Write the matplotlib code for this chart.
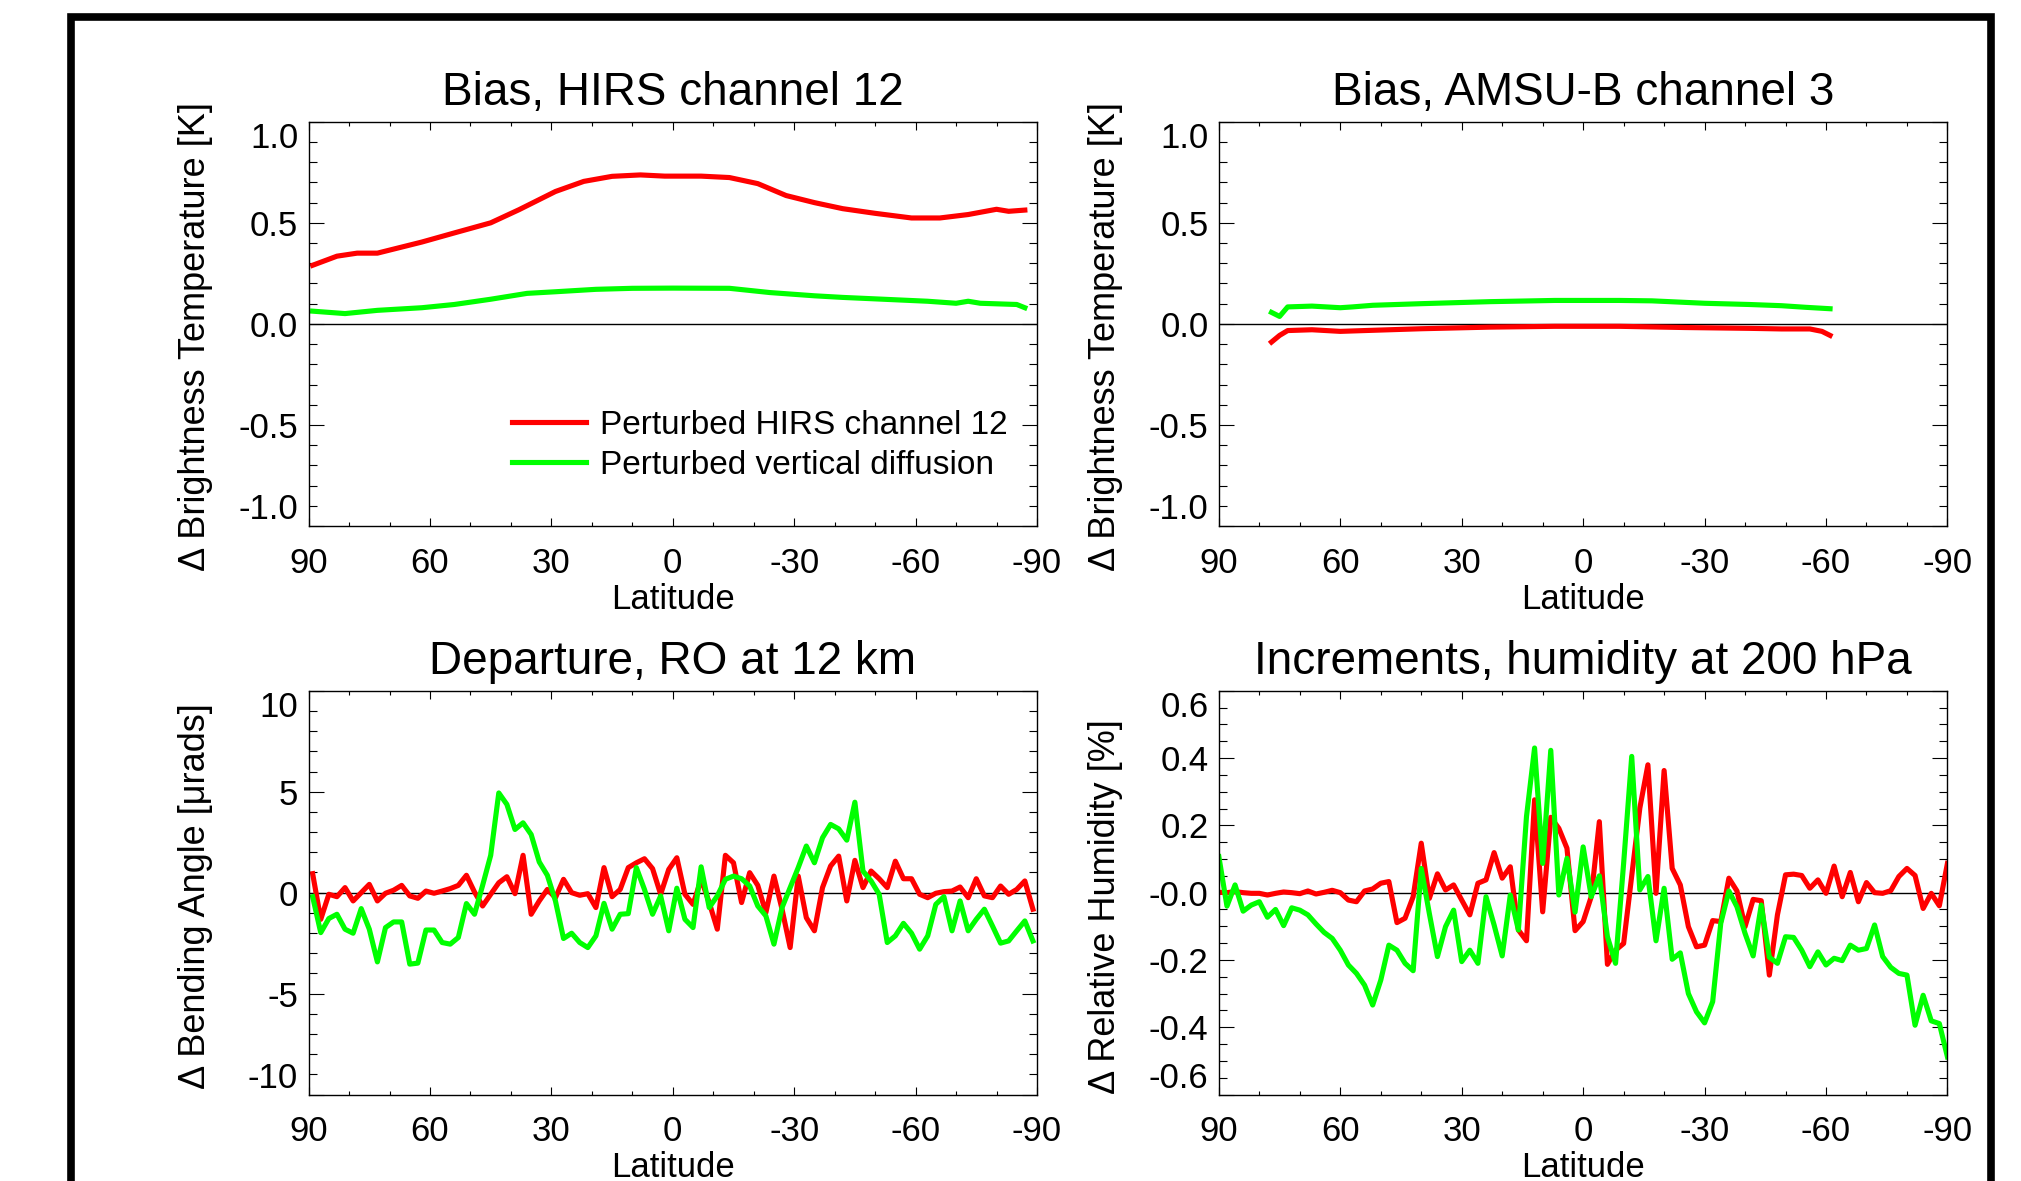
import numpy as np
import matplotlib
matplotlib.use("Agg")
import matplotlib.pyplot as plt
from matplotlib.ticker import MultipleLocator, FixedLocator, FixedFormatter
from matplotlib.patches import Rectangle

plt.rcParams['font.family'] = ['Liberation Sans', 'DejaVu Sans']
plt.rcParams['axes.unicode_minus'] = False

RED = '#ff0000'
GREEN = '#00ff00'

lat_ticks = [90, 60, 30, 0, -30, -60, -90]
lat_ticklabels = ['90', '60', '30', '0', '-30', '-60', '-90']

# --- Bias, HIRS channel 12
hirs_lat_red = [89, 83, 78, 73, 69, 62, 54, 45, 38, 29, 22, 15, 8, 2, -7, -14, -21,
                -28, -35, -42, -50, -59, -66, -73, -80, -83, -87]
hirs_red = [0.29, 0.335, 0.35, 0.35, 0.37, 0.405, 0.45, 0.50, 0.565, 0.655, 0.705,
            0.73, 0.737, 0.731, 0.731, 0.724, 0.694, 0.635, 0.60, 0.57, 0.547,
            0.524, 0.524, 0.541, 0.567, 0.557, 0.563]
hirs_lat_green = [89, 81, 73, 62, 54, 45, 36, 29, 19, 10, 0, -14, -24, -35, -42, -52,
                  -63, -70, -73, -76, -85, -87]
hirs_green = [0.063, 0.051, 0.067, 0.08, 0.096, 0.122, 0.151, 0.159, 0.171, 0.176,
              0.177, 0.176, 0.155, 0.139, 0.131, 0.122, 0.112, 0.102, 0.112, 0.102,
              0.096, 0.08]

# --- Bias, AMSU-B channel 3
amsu_lat_red = [77, 75, 73, 67, 60, 54, 40, 23, 7, -9, -25, -41, -49, -56, -59, -61]
amsu_red = [-0.09, -0.057, -0.033, -0.029, -0.037, -0.033, -0.024, -0.016, -0.012,
            -0.012, -0.018, -0.022, -0.025, -0.025, -0.037, -0.057]
amsu_lat_green = [77, 75, 73, 67, 60, 57, 52, 40, 23, 7, -9, -17, -30, -41, -49, -55, -61]
amsu_green = [0.057, 0.037, 0.084, 0.088, 0.08, 0.084, 0.092, 0.10, 0.11, 0.116,
              0.116, 0.114, 0.102, 0.096, 0.09, 0.082, 0.075]

# --- Departure, RO at 12 km (2 degree bins)
ro_lat = np.arange(89, -90, -2)
ro_red = [0.94, -1.32, -0.08, -0.2, 0.25, -0.41, 0.0, 0.41, -0.41, -0.03,
          0.12, 0.36, -0.16, -0.28, 0.08, -0.03, 0.08, 0.2, 0.36, 0.86,
          0.03, -0.66, -0.08, 0.49, 0.79, -0.05, 1.85, -1.07, -0.41, 0.16,
          -0.25, 0.66, 0.0, -0.13, -0.05, -0.74, 1.24, -0.2, 0.16, 1.24,
          1.48, 1.68, 1.19, -0.08, 1.15, 1.73, -0.08, -0.58, 0.66, -0.49,
          -1.81, 1.85, 1.48, -0.49, 0.99, 0.36, -0.99, 0.82, -0.82, -2.72,
          0.82, -1.24, -1.89, 0.25, 1.32, 1.81, -0.41, 1.6, 0.25, 1.07,
          0.69, 0.25, 1.56, 0.69, 0.69, -0.08, -0.25, -0.03, 0.05, 0.08,
          0.28, -0.25, 0.69, -0.16, -0.25, 0.33, -0.08, 0.16, 0.58, -0.82]
ro_green = [-0.2, -1.98, -1.28, -1.07, -1.81, -2.01, -0.79, -1.81, -3.43, -1.73,
            -1.45, -1.45, -3.54, -3.49, -1.85, -1.85, -2.47, -2.55, -2.22, -0.54,
            -1.07, 0.36, 1.85, 4.94, 4.37, 3.13, 3.46, 2.88, 1.52, 0.86,
            -0.41, -2.27, -2.01, -2.47, -2.72, -2.14, -0.53, -1.81, -1.07, -1.04,
            1.24, 0.16, -1.07, -0.16, -1.89, 0.22, -1.32, -1.73, 1.28, -0.74,
            -0.16, 0.66, 0.82, 0.69, 0.33, -0.66, -1.15, -2.55, -0.74, 0.25,
            1.24, 2.31, 1.48, 2.72, 3.38, 3.16, 2.6, 4.48, 1.07, 0.58,
            -0.08, -2.47, -2.14, -1.52, -2.01, -2.8, -2.14, -0.58, -0.2, -1.89,
            -0.41, -1.89, -1.32, -0.82, -1.65, -2.5, -2.39, -1.89, -1.4, -2.39]

# --- Increments, humidity at 200 hPa (2 degree steps, pole to pole)
rh_lat = np.arange(90, -91, -2)
rh_red = [0.001, 0.0, 0.003, 0.0, -0.002, -0.002, -0.007, -0.002, 0.002, 0.0,
          -0.003, 0.005, -0.004, 0.001, 0.007, 0.0, -0.022, -0.027, 0.005, 0.011,
          0.028, 0.033, -0.089, -0.076, -0.012, 0.147, -0.017, 0.056, 0.008, 0.023,
          -0.022, -0.066, 0.028, 0.038, 0.119, 0.043, 0.077, -0.111, -0.143, 0.276,
          -0.057, 0.224, 0.191, 0.132, -0.113, -0.086, -0.012, 0.211, -0.213, -0.171,
          -0.151, 0.05, 0.251, 0.38, -0.002, 0.363, 0.072, 0.023, -0.101, -0.161,
          -0.156, -0.083, -0.086, 0.043, 0.005, -0.101, -0.02, -0.024, -0.245, -0.066,
          0.053, 0.055, 0.051, 0.013, 0.038, -0.002, 0.079, -0.012, 0.06, -0.027,
          0.03, 0.0, -0.002, 0.006, 0.048, 0.072, 0.051, -0.047, -0.002, -0.039,
          0.087]
rh_green = [0.107, -0.04, 0.023, -0.055, -0.037, -0.027, -0.073, -0.05, -0.098, -0.045,
            -0.052, -0.066, -0.093, -0.118, -0.136, -0.171, -0.215, -0.24, -0.275, -0.334,
            -0.26, -0.156, -0.171, -0.21, -0.232, 0.072, -0.062, -0.19, -0.101, -0.052,
            -0.205, -0.171, -0.21, -0.012, -0.096, -0.188, -0.007, -0.111, 0.226, 0.43,
            0.087, 0.423, -0.007, 0.102, -0.058, 0.136, -0.012, 0.05, -0.131, -0.21,
            0.087, 0.405, 0.008, 0.048, -0.143, 0.013, -0.198, -0.179, -0.3, -0.354,
            -0.387, -0.324, -0.091, 0.005, -0.042, -0.121, -0.188, -0.037, -0.192, -0.21,
            -0.131, -0.133, -0.171, -0.22, -0.176, -0.215, -0.195, -0.202, -0.156, -0.171,
            -0.166, -0.096, -0.19, -0.222, -0.24, -0.245, -0.394, -0.305, -0.381, -0.389,
            -0.488]

bt_yticks = [-1.0, -0.5, 0.0, 0.5, 1.0]
bt_yticklabels = ['-1.0', '-0.5', '0.0', '0.5', '1.0']
ro_yticks = [-10, -5, 0, 5, 10]
ro_yticklabels = ['-10', '-5', '0', '5', '10']
rh_yticks = [-0.6, -0.4, -0.2, 0.0, 0.2, 0.4, 0.6]
rh_yticklabels = ['-0.6', '-0.4', '-0.2', '-0.0', '0.2', '0.4', '0.6']


def style_axes(ax, title, ylabel, yticks, yticklabels, yminor, ylab_y):
    ax.set_xlim(90, -90)
    ax.set_ylim(yticks[0], yticks[-1])
    ax.axhline(0, color='k', lw=1.0, zorder=1)
    ax.xaxis.set_major_locator(FixedLocator(lat_ticks))
    ax.xaxis.set_major_formatter(FixedFormatter(lat_ticklabels))
    ax.xaxis.set_minor_locator(MultipleLocator(10))
    ax.yaxis.set_major_locator(FixedLocator(yticks))
    ax.yaxis.set_major_formatter(FixedFormatter(yticklabels))
    ax.yaxis.set_minor_locator(MultipleLocator(yminor))
    ax.tick_params(which='both', direction='in', top=True, right=True,
                   width=0.8, color='k')
    ax.tick_params(axis='x', which='major', length=5.5, pad=15, labelsize=25)
    ax.tick_params(axis='x', which='minor', length=3)
    ax.tick_params(axis='y', which='major', length=10.8, pad=7.5, labelsize=25)
    ax.tick_params(axis='y', which='minor', length=5.5)
    for s in ax.spines.values():
        s.set_linewidth(1.0)
    ax.set_title(title, fontsize=33, pad=12)
    ax.set_xlabel('Latitude', fontsize=25, labelpad=2)
    ax.set_ylabel(ylabel, fontsize=26)
    ax.yaxis.set_label_coords(-0.1317, ylab_y)
    ticks = ax.yaxis.get_major_ticks()
    ticks[0].label1.set_va('bottom')
    ticks[-1].label1.set_va('top')


fig = plt.figure(figsize=(20.21, 11.81), dpi=100)
fig.patch.set_facecolor('white')

ax1 = fig.add_axes([0.1527, 0.5546, 0.3604, 0.3423])
ax2 = fig.add_axes([0.6031, 0.5546, 0.3605, 0.3423])
ax3 = fig.add_axes([0.1527, 0.0732, 0.3604, 0.3419])
ax4 = fig.add_axes([0.6031, 0.0732, 0.3605, 0.3419])

lw = 3.7
ax1.plot(hirs_lat_red, hirs_red, color=RED, lw=lw, label='Perturbed HIRS channel 12')
ax1.plot(hirs_lat_green, hirs_green, color=GREEN, lw=lw, label='Perturbed vertical diffusion')
style_axes(ax1, 'Bias, HIRS channel 12', '\u0394 Brightness Temperature [K]',
           bt_yticks, bt_yticklabels, 0.1, 0.47)
ax1.legend(loc='upper left', bbox_to_anchor=(0.2794, 0.288), frameon=False,
           fontsize=24, handlelength=2.22, handletextpad=0.42, labelspacing=0.27,
           borderpad=0, borderaxespad=0)

ax2.plot(amsu_lat_red, amsu_red, color=RED, lw=lw)
ax2.plot(amsu_lat_green, amsu_green, color=GREEN, lw=lw)
style_axes(ax2, 'Bias, AMSU-B channel 3', '\u0394 Brightness Temperature [K]',
           bt_yticks, bt_yticklabels, 0.1, 0.47)

ax3.plot(ro_lat, ro_red, color=RED, lw=lw)
ax3.plot(ro_lat, ro_green, color=GREEN, lw=lw)
style_axes(ax3, 'Departure, RO at 12 km', '\u0394 Bending Angle [\u03bcrads]',
           ro_yticks, ro_yticklabels, 1, 0.492)

ax4.plot(rh_lat, rh_red, color=RED, lw=lw)
ax4.plot(rh_lat, rh_green, color=GREEN, lw=lw)
style_axes(ax4, 'Increments, humidity at 200 hPa', '\u0394 Relative Humidity [%]',
           rh_yticks, rh_yticklabels, 0.05, 0.466)

# outer frame
fig.add_artist(Rectangle((71 / 2021, -0.1), 1920 / 2021, 0.1 + 1164 / 1181,
                         transform=fig.transFigure, fill=False, ec='k', lw=5.5,
                         clip_on=False))

fig.savefig('out.png', dpi=100, facecolor='white')
